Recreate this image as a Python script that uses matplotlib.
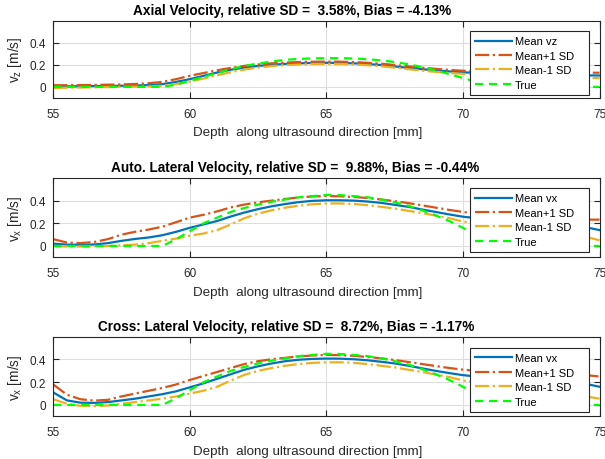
import numpy as np
import matplotlib
matplotlib.use("Agg")
import matplotlib.pyplot as plt

# ------------------------------
# Data: velocity profiles along depth
# ------------------------------
depth = np.linspace(55, 75, 41)  # [mm], 0.5 mm step

titles = [
    "Axial Velocity, relative SD =  3.58%, Bias = -4.13%",
    "Auto. Lateral Velocity, relative SD =  9.88%, Bias = -0.44%",
    "Cross: Lateral Velocity, relative SD =  8.72%, Bias = -1.17%",
]
ylabels = [r"v$_{\mathrm{z}}$ [m/s]", r"v$_{\mathrm{x}}$ [m/s]", r"v$_{\mathrm{x}}$ [m/s]"]
mean_labels = ["Mean vz", "Mean vx", "Mean vx"]

true_vz = [0, 0, 0, 0, 0, 0, 0, 0,
           0.0, 0.02, 0.055, 0.09, 0.125, 0.16, 0.19, 0.21, 0.23, 0.245, 0.253, 0.258,
           0.26, 0.26, 0.257, 0.25, 0.24, 0.225, 0.205, 0.18, 0.15, 0.115, 0.08, 0.045,
           0.015, 0.0,
           0, 0, 0, 0, 0, 0, 0]
mean_vz = [0.005, 0.005, 0.006, 0.007, 0.008, 0.01, 0.012, 0.016, 0.025, 0.045,
           0.07, 0.1, 0.13, 0.155, 0.175, 0.19, 0.2, 0.208, 0.213, 0.217,
           0.218, 0.217, 0.213, 0.207, 0.198, 0.185, 0.172, 0.16, 0.15, 0.14,
           0.132, 0.126, 0.12, 0.116, 0.113, 0.11, 0.108, 0.106, 0.105, 0.104, 0.103]
plus_vz = [0.015, 0.015, 0.016, 0.018, 0.02, 0.022, 0.026, 0.033, 0.045, 0.07,
           0.1, 0.125, 0.15, 0.172, 0.19, 0.203, 0.213, 0.22, 0.225, 0.228,
           0.229, 0.228, 0.225, 0.218, 0.21, 0.198, 0.186, 0.174, 0.163, 0.153,
           0.146, 0.14, 0.136, 0.133, 0.131, 0.13, 0.129, 0.128, 0.128, 0.128, 0.128]
minus_vz = [-0.01, -0.008, -0.006, -0.004, -0.002, 0.0, 0.002, 0.004, 0.01, 0.025,
            0.048, 0.075, 0.105, 0.133, 0.157, 0.175, 0.188, 0.197, 0.203, 0.207,
            0.208, 0.207, 0.203, 0.196, 0.187, 0.174, 0.16, 0.147, 0.136, 0.126,
            0.118, 0.111, 0.105, 0.1, 0.095, 0.091, 0.088, 0.085, 0.083, 0.081, 0.08]

true_vx = [0, 0, 0, 0, 0, 0, 0, 0,
           0.0, 0.06, 0.13, 0.2, 0.25, 0.3, 0.335, 0.365, 0.39, 0.41, 0.43, 0.44,
           0.45, 0.448, 0.44, 0.43, 0.41, 0.385, 0.355, 0.315, 0.27, 0.22, 0.16, 0.09,
           0.03, 0.0,
           0, 0, 0, 0, 0, 0, 0]

mean_vx_auto = [0.02, 0.012, 0.01, 0.013, 0.025, 0.045, 0.062, 0.075, 0.095, 0.125,
                0.16, 0.19, 0.22, 0.26, 0.295, 0.325, 0.35, 0.37, 0.387, 0.398,
                0.403, 0.403, 0.4, 0.392, 0.38, 0.363, 0.345, 0.322, 0.3, 0.278,
                0.258, 0.245, 0.235, 0.225, 0.215, 0.205, 0.195, 0.185, 0.175, 0.165, 0.14]
plus_vx_auto = [0.06, 0.03, 0.025, 0.035, 0.06, 0.1, 0.125, 0.145, 0.17, 0.21,
                0.25, 0.275, 0.305, 0.34, 0.365, 0.385, 0.4, 0.415, 0.428, 0.437,
                0.44, 0.438, 0.432, 0.423, 0.41, 0.395, 0.378, 0.358, 0.338, 0.318,
                0.3, 0.285, 0.27, 0.26, 0.25, 0.243, 0.238, 0.235, 0.232, 0.232, 0.232]
minus_vx_auto = [0.0, -0.005, -0.005, -0.003, 0.0, 0.005, 0.012, 0.025, 0.045, 0.065,
                 0.09, 0.11, 0.14, 0.19, 0.245, 0.285, 0.315, 0.338, 0.355, 0.368,
                 0.375, 0.375, 0.37, 0.36, 0.345, 0.33, 0.31, 0.29, 0.268, 0.245,
                 0.215, 0.2, 0.185, 0.17, 0.155, 0.14, 0.125, 0.11, 0.095, 0.08, 0.05]

mean_vx_cross = [0.11, 0.04, 0.02, 0.018, 0.025, 0.04, 0.055, 0.075, 0.095, 0.12,
                 0.155, 0.19, 0.23, 0.27, 0.31, 0.34, 0.365, 0.385, 0.398, 0.405,
                 0.408, 0.407, 0.402, 0.393, 0.38, 0.365, 0.345, 0.322, 0.3, 0.28,
                 0.262, 0.25, 0.24, 0.232, 0.226, 0.22, 0.215, 0.21, 0.2, 0.185, 0.16]
plus_vx_cross = [0.18, 0.09, 0.05, 0.038, 0.045, 0.075, 0.1, 0.125, 0.15, 0.18,
                 0.22, 0.255, 0.29, 0.325, 0.36, 0.385, 0.402, 0.415, 0.427, 0.435,
                 0.44, 0.438, 0.432, 0.422, 0.41, 0.395, 0.378, 0.36, 0.342, 0.325,
                 0.31, 0.3, 0.293, 0.288, 0.284, 0.28, 0.277, 0.274, 0.27, 0.262, 0.25]
minus_vx_cross = [0.05, 0.01, -0.008, -0.01, -0.005, 0.01, 0.025, 0.04, 0.055, 0.075,
                  0.1, 0.125, 0.16, 0.215, 0.265, 0.3, 0.325, 0.345, 0.36, 0.37,
                  0.375, 0.375, 0.37, 0.36, 0.345, 0.33, 0.31, 0.29, 0.268, 0.245,
                  0.215, 0.2, 0.185, 0.17, 0.155, 0.14, 0.125, 0.11, 0.095, 0.075, 0.055]

panels = [
    (mean_vz, plus_vz, minus_vz, true_vz),
    (mean_vx_auto, plus_vx_auto, minus_vx_auto, true_vx),
    (mean_vx_cross, plus_vx_cross, minus_vx_cross, true_vx),
]

# MATLAB-like colours
C_MEAN = "#0072BD"
C_PLUS = "#D95319"
C_MINUS = "#EDB120"
C_TRUE = "#00FF00"
C_AX = "#262626"

plt.rcParams["font.family"] = ["Liberation Sans", "DejaVu Sans"]
plt.rcParams["mathtext.fontset"] = "custom"
plt.rcParams["mathtext.rm"] = "Liberation Sans"

fig = plt.figure(figsize=(6.05, 4.6), dpi=100)

# axes rectangles [left, bottom, width, height] in figure fractions
rects = [
    [0.088, 0.785, 0.903, 0.168],
    [0.088, 0.4385, 0.903, 0.1725],
    [0.088, 0.0928, 0.903, 0.173],
]
title_x = [0.438, 0.442, 0.427]
legend_y = [0.04, 0.07, 0.06]

for i, (rect, title, ylab, mlab, (m, p, mn, t)) in enumerate(
        zip(rects, titles, ylabels, mean_labels, panels)):
    ax = fig.add_axes(rect)
    ax.plot(depth, m, color=C_MEAN, lw=1.6, label=mlab)
    ax.plot(depth, p, color=C_PLUS, lw=1.6, ls="-.", label="Mean+1 SD")
    ax.plot(depth, mn, color=C_MINUS, lw=1.6, ls="-.", label="Mean-1 SD")
    ax.plot(depth, t, color=C_TRUE, lw=1.6, ls="--", dashes=(3.7, 2.6), label="True")

    ax.set_xlim(55, 75)
    ax.set_ylim(-0.1, 0.6)
    ax.set_xticks([55, 60, 65, 70, 75])
    ax.set_yticks([0, 0.2, 0.4])
    ax.set_yticklabels(["0", "0.2", "0.4"])
    ax.grid(True, color="#dedede", lw=0.8)
    ax.set_axisbelow(True)
    ax.tick_params(direction="in", top=True, right=True, length=4, width=0.8,
                   labelsize=8.5, colors=C_AX)
    ax.tick_params(axis="x", pad=7)
    ax.tick_params(axis="y", pad=5)
    for s in ax.spines.values():
        s.set_color(C_AX)
        s.set_linewidth(0.8)

    ax.set_title(title, fontsize=9.8, fontweight="bold", pad=5, x=title_x[i])
    ax.set_xlabel("Depth  along ultrasound direction [mm]", fontsize=9.6, color=C_AX)
    ax.xaxis.set_label_coords(0.466, -0.36)
    ax.set_ylabel(ylab, fontsize=9.8, color=C_AX, labelpad=4)

    # legend box stretched to a fixed width in the lower right corner
    leg = ax.legend(loc="lower left", bbox_to_anchor=(0.763, legend_y[i], 0.218, 0.8),
                    mode="expand", borderaxespad=0,
                    fontsize=8, handlelength=3.3, handletextpad=0.3,
                    labelspacing=0.4, borderpad=0.45, fancybox=False, framealpha=1)
    leg.get_frame().set_edgecolor(C_AX)
    leg.get_frame().set_linewidth(0.8)

fig.savefig("out.png", dpi=100)
